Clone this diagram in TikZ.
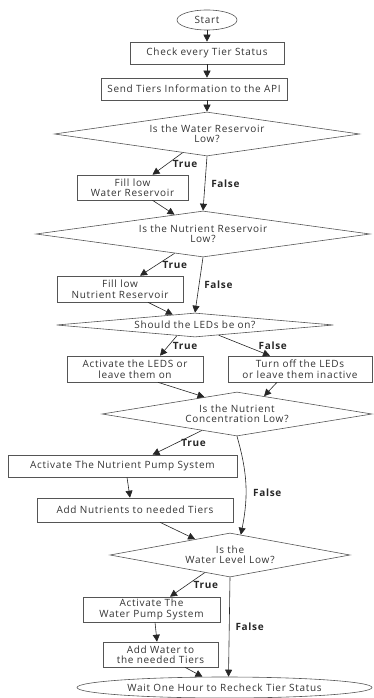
\documentclass[tikz,border=0pt]{standalone}
\usepackage{fontspec}
\setmainfont{Open Sans}[LetterSpace=7]
\usetikzlibrary{
  arrows.meta,
  positioning,
  shapes.geometric,
  calc
}
\definecolor{linegray}{HTML}{555555}
\definecolor{textgray}{HTML}{333333}

\begin{document}
\begin{tikzpicture}[
  x=1pt, y=-1pt,
  font=\fontsize{10}{10.5}\selectfont, text=textgray,
  terminal/.style={ellipse, draw=linegray, line width=0.6pt, inner sep=0},
  process/.style={rectangle, draw=linegray, line width=0.6pt, minimum height=22, inner sep=1.5pt, align=center},
  decision/.style={diamond, draw=linegray, line width=0.6pt, inner sep=0, align=center},
  arrow/.style={-{Triangle[length=7pt,width=7pt]}, line width=0.6pt, draw=black!85},
  lbl/.style={font=\fontsize{10}{10.5}\selectfont\bfseries, text=black!85, inner sep=1pt}
]
  \useasboundingbox (0,0) rectangle (373,698);

  % Start
  \node[terminal, minimum width=60, minimum height=20] (start) at (207,20) {Start};
  \node[process, minimum width=154] (check) at (207,53) {Check every Tier Status};
  \node[process, minimum width=186] (send) at (194,89) {Send Tiers Information to the API};

  % Water reservoir
  \node[decision, minimum width=305, minimum height=44, aspect=6.9] (water) at (207,134) {Is the Water Reservoir\\Low?};
  \node[process, minimum width=111, minimum height=25] (fillwater) at (132.5,187.5) {Fill low\\Water Reservoir};

  % Nutrient reservoir
  \node[decision, minimum width=334, minimum height=46, aspect=7.3] (nutres) at (203,234) {Is the Nutrient Reservoir\\Low?};
  \node[process, minimum width=126, minimum height=26] (fillnut) at (120,289) {Fill low\\Nutrient Reservoir};

  % LEDs
  \node[decision, minimum width=277, minimum height=24, aspect=11] (leds) at (195,325) {Should the LEDs be on?};
  \node[process, minimum width=136, minimum height=26] (ledson) at (135,369) {Activate the LEDS or\\leave them on};
  \node[process, minimum width=144, minimum height=26] (ledsoff) at (300,369) {Turn off the LEDs\\or leave them inactive};

  % Nutrient concentration
  \node[decision, minimum width=270, minimum height=44, aspect=6.1] (conc) at (237,414) {Is the Nutrient\\Concentration Low?};
  \node[process, minimum width=229] (pumpnut) at (122.5,466) {Activate The Nutrient Pump System};
  \node[process, minimum width=196, minimum height=24] (addnut) at (135,510) {Add Nutrients to needed Tiers};

  % Water level
  \node[decision, minimum width=240, minimum height=44, aspect=5.5] (level) at (230,555) {Is the\\Water Level Low?};
  \node[process, minimum width=137, minimum height=25] (pumpwater) at (151.5,609.5) {Activate The\\Water Pump System};
  \node[process, minimum width=115, minimum height=25] (addwater) at (160.5,654.5) {Add Water to\\the needed Tiers};

  % End
  \node[terminal, minimum width=295, minimum height=21] (wait) at (224.5,687.5) {Wait One Hour to Recheck Tier Status};

  % Connections
  \draw[arrow] (start) -- (check);
  \draw[arrow] (check.south) -- (check.south |- send.north);
  \draw[arrow] (water.north |- send.south) -- (water.north);

  \draw[arrow] ($(water.south)!0.16!(water.west)$) -- ([xshift=20]fillwater.north)
    node[lbl, midway, right=4pt] {True};
  \draw[arrow] (water.south) -- (nutres.north)
    node[lbl, midway, right=5pt] {False};
  \draw[arrow] ([xshift=20]fillwater.south) -- ($(nutres.north)!0.17!(nutres.west)$);

  \draw[arrow] ($(nutres.south)!0.17!(nutres.west)$) -- ([xshift=20]fillnut.north)
    node[lbl, midway, right=4pt] {True};
  \draw[arrow] (nutres.south) -- (leds.north)
    node[lbl, midway, right=4pt] {False};
  \draw[arrow] ([xshift=28]fillnut.south) -- ($(leds.north)!0.16!(leds.west)$);

  \draw[arrow] ($(leds.south)!0.13!(leds.west)$) -- ([xshift=25]ledson.north)
    node[lbl, midway, right=3pt] {True};
  \draw[arrow] ($(leds.south)!0.17!(leds.east)$) -- ([xshift=-30]ledsoff.north)
    node[lbl, midway, right=13pt] {False};
  \draw[arrow] ([xshift=23]ledson.south) -- ($(conc.north)!0.24!(conc.west)$);
  \draw[arrow] ([xshift=-23]ledsoff.south) -- ($(conc.north)!0.2!(conc.east)$);

  \draw[arrow] ($(conc.south)!0.26!(conc.west)$) -- ([xshift=30]pumpnut.north)
    node[lbl, midway, right=3pt] {True};
  \draw[arrow] (conc.south) .. controls +(10,35) and +(8,-40) .. ($(level.north)!0.09!(level.east)$)
    node[lbl, pos=0.6, right=6pt] {False};
  \draw[arrow] ([xshift=4.5]pumpnut.south) -- ([xshift=-5]addnut.north);
  \draw[arrow] ([xshift=25]addnut.south) -- ($(level.north)!0.29!(level.west)$);

  \draw[arrow] ($(level.south)!0.21!(level.west)$) -- ([xshift=18.5]pumpwater.north)
    node[lbl, midway, right=5pt] {True};
  \draw[arrow] (level.south) -- ([xshift=4]wait.north)
    node[lbl, midway, right=5pt] {False};
  \draw[arrow] ([xshift=3.5]pumpwater.south) -- ([xshift=-3.5]addwater.north);
  \draw[arrow] ([xshift=24.5]addwater.south) -- ([xshift=-22]wait.north);
\end{tikzpicture}
\end{document}
